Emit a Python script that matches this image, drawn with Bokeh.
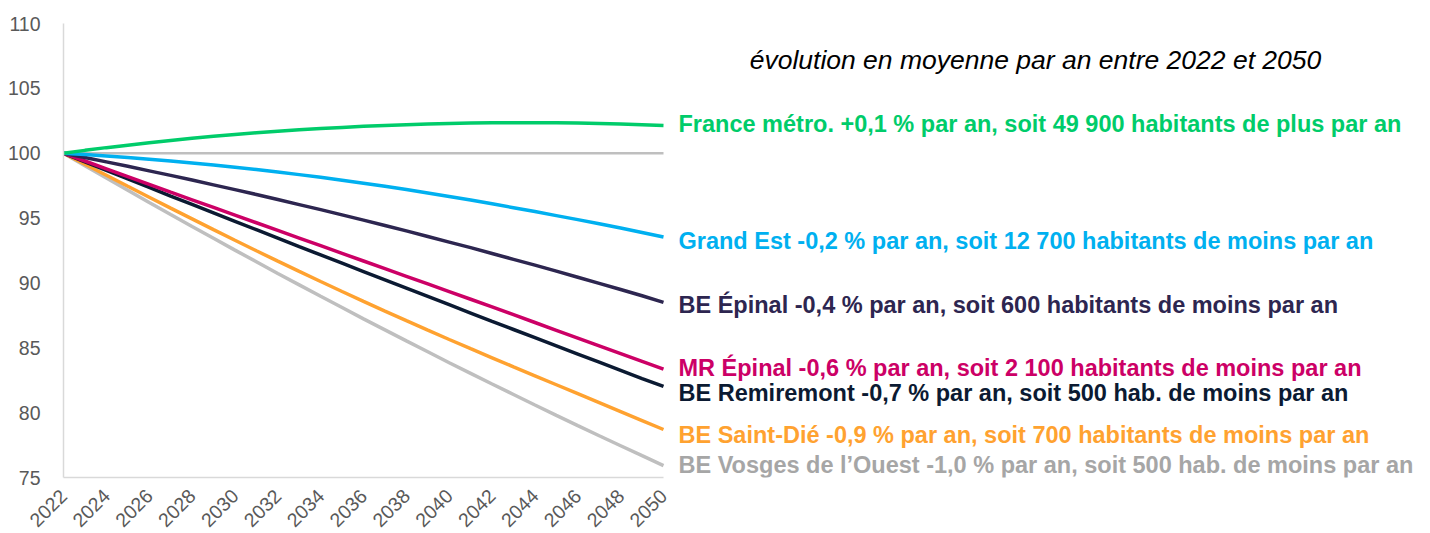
import math
from bokeh.plotting import figure
from bokeh.models import ColumnDataSource, LabelSet, Label, FixedTicker, Range1d
from bokeh.core.properties import value
from bokeh.embed import file_html
from bokeh.resources import INLINE

years = list(range(2022, 2051))
tick_years = [2022, 2024, 2026, 2028, 2030, 2032, 2034, 2036, 2038, 2040, 2042, 2044, 2046, 2048, 2050]
y_ticks = [75, 80, 85, 90, 95, 100, 105, 110]

reference = [100.0] * 29
france = [100.00, 100.22, 100.43, 100.62, 100.80, 100.98, 101.15, 101.30, 101.45, 101.58, 101.70, 101.81, 101.91, 101.99,
          102.07, 102.14, 102.20, 102.25, 102.29, 102.32, 102.34, 102.35, 102.35, 102.34, 102.32, 102.29, 102.25, 102.20, 102.14]
grand_est = [100.00, 99.90, 99.79, 99.67, 99.54, 99.40, 99.25, 99.09, 98.92, 98.74, 98.55, 98.35, 98.14, 97.92, 97.69,
             97.45, 97.20, 96.94, 96.67, 96.39, 96.10, 95.80, 95.50, 95.19, 94.88, 94.56, 94.23, 93.89, 93.54]
be_epinal = [100.00, 99.67, 99.33, 98.99, 98.64, 98.29, 97.93, 97.56, 97.19, 96.82, 96.43, 96.04, 95.65, 95.25, 94.84,
             94.43, 94.01, 93.58, 93.15, 92.72, 92.27, 91.82, 91.37, 90.91, 90.44, 89.97, 89.49, 89.01, 88.50]
mr_epinal = [100.00, 99.40, 98.80, 98.20, 97.60, 97.00, 96.41, 95.82, 95.23, 94.64, 94.05, 93.46, 92.87, 92.28, 91.69,
             91.10, 90.51, 89.92, 89.33, 88.74, 88.15, 87.55, 86.95, 86.35, 85.75, 85.15, 84.55, 83.95, 83.35]
be_remiremont = [100.00, 99.34, 98.68, 98.02, 97.36, 96.70, 96.05, 95.40, 94.75, 94.10, 93.45, 92.80, 92.16, 91.52, 90.88,
                 90.24, 89.60, 88.96, 88.32, 87.68, 87.04, 86.41, 85.78, 85.15, 84.52, 83.89, 83.26, 82.63, 82.02]
be_saint_die = [100.00, 99.15, 98.30, 97.45, 96.61, 95.77, 94.94, 94.11, 93.29, 92.48, 91.68, 90.89, 90.11, 89.34, 88.58,
                87.83, 87.09, 86.36, 85.64, 84.93, 84.23, 83.53, 82.84, 82.15, 81.46, 80.77, 80.08, 79.39, 78.70]
be_vosges_ouest = [100.00, 99.04, 98.09, 97.14, 96.20, 95.27, 94.35, 93.44, 92.53, 91.63, 90.73, 89.85, 88.97, 88.10, 87.23,
                   86.38, 85.53, 84.69, 83.85, 83.03, 82.21, 81.40, 80.59, 79.79, 79.00, 78.22, 77.45, 76.68, 75.92]

label_texts = [
    "France métro. +0,1 % par an, soit 49 900 habitants de plus par an",
    "Grand Est -0,2 % par an, soit 12 700 habitants de moins par an",
    "BE Épinal -0,4 % par an, soit 600 habitants de moins par an",
    "MR Épinal -0,6 % par an, soit 2 100 habitants de moins par an",
    "BE Remiremont -0,7 % par an, soit 500 hab. de moins par an",
    "BE Saint-Dié -0,9 % par an, soit 700 habitants de moins par an",
    "BE Vosges de l’Ouest -1,0 % par an, soit 500 hab. de moins par an",
]
title_text = "évolution en moyenne par an entre 2022 et 2050"

# layout / style
line_colors = ["#00CC6A", "#00B0F0", "#2D2650", "#CC0066", "#0B1A32", "#FFA230", "#BFBFBF"]
text_colors = ["#00CC6A", "#00B0F0", "#2D2650", "#CC0066", "#0B1A32", "#FFA230", "#A6A6A6"]
label_y = [102.28, 93.26, 88.33, 83.48, 81.55, 78.31, 76.0]

p = figure(frame_width=1359, frame_height=454, min_border_left=63, min_border_right=0,
           min_border_top=23, min_border_bottom=40,
           x_range=Range1d(2022, 2085.42), y_range=Range1d(75, 110),
           output_backend="svg", toolbar_location=None)
p.outline_line_color = None
p.xgrid.grid_line_color = None
p.ygrid.grid_line_color = None
p.background_fill_color = "white"
p.border_fill_color = "white"

series = [france, grand_est, be_epinal, mr_epinal, be_remiremont, be_saint_die, be_vosges_ouest]

p.line(years, reference, line_color="#BFBFBF", line_width=2.5)
for vals, col in reversed(list(zip(series, line_colors))):
    p.line(years, vals, line_color=col, line_width=3.5)

src = ColumnDataSource(dict(x=[years[-1]] * len(label_texts), y=label_y, text=label_texts, color=text_colors))
p.add_layout(LabelSet(x="x", y="y", text="text", source=src, x_offset=15, text_color="color",
                      text_font=value("Liberation Sans"), text_font_style="bold",
                      text_font_size=value("23.5px"), text_baseline="middle", text_align="left"))

p.add_layout(Label(x=2067.36, y=107.15, text=title_text, text_font="Liberation Sans",
                   text_font_style="italic", text_font_size="26.5px", text_color="#000000",
                   text_align="center", text_baseline="middle"))

for ax in (p.xaxis, p.yaxis):
    ax.axis_line_color = "#D9D9D9"
    ax.axis_line_width = 1.5
    ax.major_tick_line_color = None
    ax.minor_tick_line_color = None
    ax.major_label_text_color = "#595959"
    ax.major_label_text_font = "Liberation Sans"
    ax.major_label_text_font_size = "19.5px"

p.xaxis.bounds = (2022, 2050)
p.xaxis.ticker = FixedTicker(ticks=tick_years)
p.yaxis.ticker = FixedTicker(ticks=y_ticks)
p.xaxis.major_label_orientation = math.pi / 4
p.xaxis.major_label_standoff = 9
p.yaxis.major_label_standoff = 17

open("out.html", "w").write(file_html(p, INLINE))
